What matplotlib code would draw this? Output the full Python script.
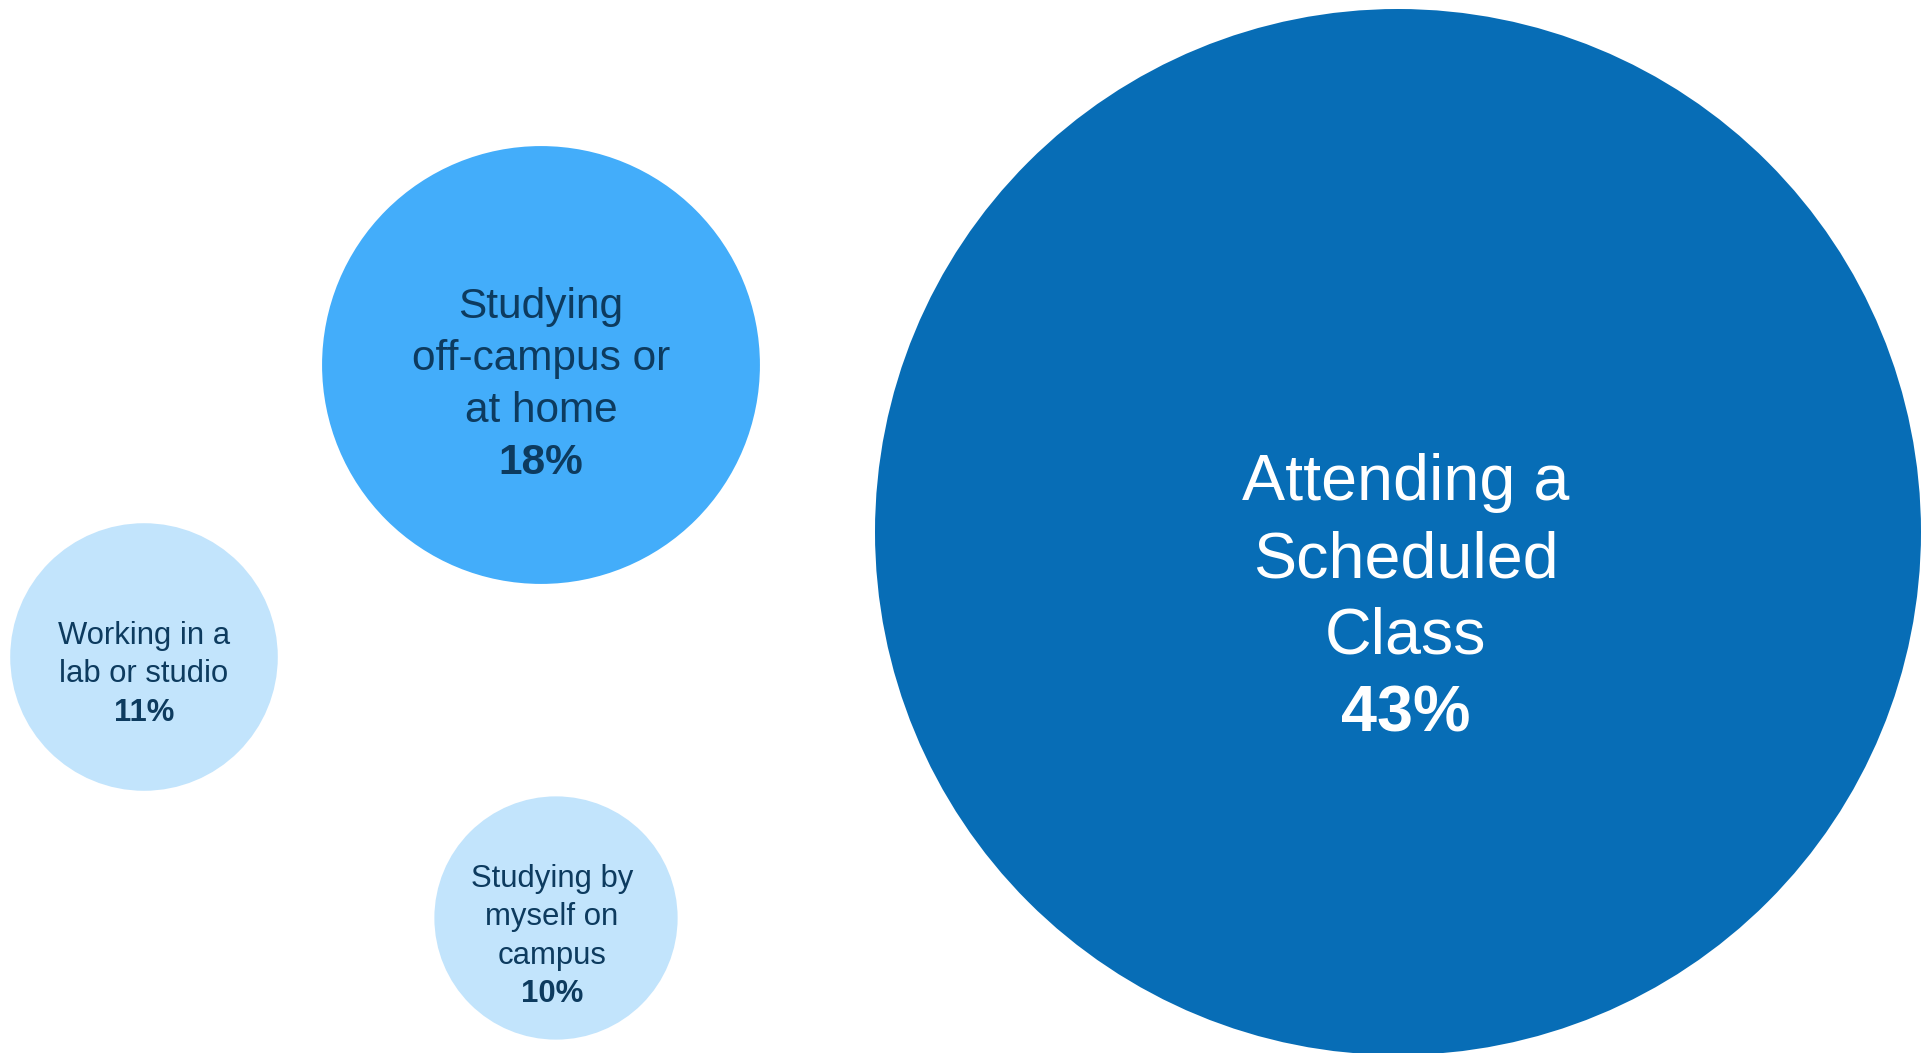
import matplotlib.pyplot as plt
from matplotlib.patches import Circle

# where students spend their time on campus
labels = [["Attending a", "Scheduled", "Class"],
          ["Studying", "off-campus or", "at home"],
          ["Working in a", "lab or studio"],
          ["Studying by", "myself on", "campus"]]
values = [43, 18, 11, 10]

# layout in pixels (origin top-left)
centers = [(1398, 532), (541, 365), (144, 657), (556, 918)]
text_x = [1406, 541, 144, 552]
text_top = [483, 307, 636, 879]
line_gap = [77, 52, 38.5, 38.5]
font_sizes = [46.5, 30.5, 22.3, 22.4]
fills = ["#076db6", "#43adfa", "#c2e4fc", "#c2e4fc"]
text_colors = ["white", "#0d3b5f", "#0d3b5f", "#0d3b5f"]
px_per_pct = 523 / 43

W, H = 1932, 1053
fig = plt.figure(figsize=(W / 100, H / 100), dpi=100)
ax = fig.add_axes([0, 0, 1, 1])
ax.set_xlim(0, W)
ax.set_ylim(H, 0)
ax.set_aspect("equal")
ax.axis("off")

for i in range(len(values)):
    ax.add_patch(Circle(centers[i], values[i] * px_per_pct, color=fills[i], lw=0))
    lines = labels[i] + [f"{values[i]}%"]
    for j, line in enumerate(lines):
        bold = j == len(lines) - 1
        ax.text(text_x[i], text_top[i] + j * line_gap[i], line,
                ha="center", va="center", fontsize=font_sizes[i],
                family="Liberation Sans", color=text_colors[i],
                fontweight="bold" if bold else "normal")

fig.savefig("out.png", dpi=100)
